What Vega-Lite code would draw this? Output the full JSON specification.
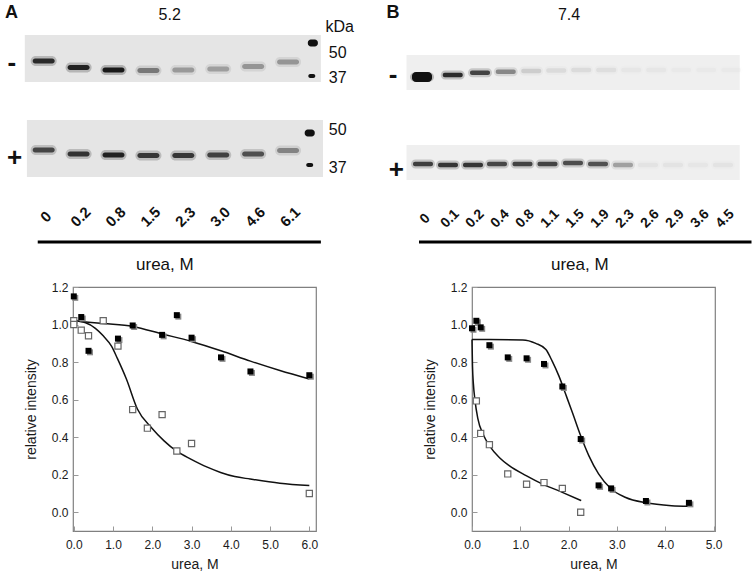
{
  "$schema": "https://vega.github.io/schema/vega-lite/v6.json",
  "padding": {"left": 5, "top": 0, "right": 0, "bottom": 0},
  "bounds": "flush",
  "columns": 2,
  "spacing": {"row": 12, "column": 156},
  "config": {
    "font": "Liberation Sans",
    "view": {"stroke": "#808080", "strokeWidth": 1.2},
    "axis": {
      "grid": false, "domain": false,
      "ticks": true, "tickSize": -5, "tickColor": "#999", "tickWidth": 1,
      "labelFont": "Liberation Sans", "labelFontSize": 12, "labelColor": "#1a1a1a",
      "titleFont": "Liberation Sans", "titleFontWeight": "normal", "titleColor": "#1a1a1a"
    },
    "axisX": {"labelPadding": 13, "titlePadding": 7, "titleFontSize": 14, "labelFlush": false},
    "axisY": {"labelPadding": 10, "titlePadding": 13, "titleFontSize": 14},
    "text": {"color": "#111", "align": "center", "baseline": "middle"}
  },
  "datasets": {
    "gelA_strips": [
      {"strip": "-", "lane": -0.54, "lane2": 7.94, "pos": 3.5, "pos2": 8.2},
      {"strip": "+", "lane": -0.48, "lane2": 8.0, "pos": 12.0, "pos2": 17.7}
    ],
    "gelA_bands": [
      {"strip": "-", "lane": 0, "pos": 6.1, "intensity": 0.85},
      {"strip": "-", "lane": 1, "pos": 6.75, "intensity": 0.9},
      {"strip": "-", "lane": 2, "pos": 7.0, "intensity": 0.95},
      {"strip": "-", "lane": 3, "pos": 7.05, "intensity": 0.45},
      {"strip": "-", "lane": 4, "pos": 7.0, "intensity": 0.3},
      {"strip": "-", "lane": 5, "pos": 6.9, "intensity": 0.28},
      {"strip": "-", "lane": 6, "pos": 6.65, "intensity": 0.32},
      {"strip": "-", "lane": 7, "pos": 6.2, "intensity": 0.32},
      {"strip": "+", "lane": 0, "pos": 15.0, "intensity": 0.7},
      {"strip": "+", "lane": 1, "pos": 15.4, "intensity": 0.8},
      {"strip": "+", "lane": 2, "pos": 15.5, "intensity": 0.9},
      {"strip": "+", "lane": 3, "pos": 15.55, "intensity": 0.78},
      {"strip": "+", "lane": 4, "pos": 15.55, "intensity": 0.78},
      {"strip": "+", "lane": 5, "pos": 15.5, "intensity": 0.72},
      {"strip": "+", "lane": 6, "pos": 15.4, "intensity": 0.65},
      {"strip": "+", "lane": 7, "pos": 15.05, "intensity": 0.4}
    ],
    "gelA_markers": [
      {"strip": "-", "kDa": 50, "lane": 7.71, "pos": 4.3},
      {"strip": "-", "kDa": 37, "lane": 7.68, "pos": 7.6},
      {"strip": "+", "kDa": 50, "lane": 7.62, "pos": 13.3},
      {"strip": "+", "kDa": 37, "lane": 7.62, "pos": 16.5}
    ],
    "gelA_text": [
      {"kind": "panel", "label": "A", "lane": -0.92, "pos": 1.3},
      {"kind": "title", "label": "5.2", "lane": 3.61, "pos": 1.5},
      {"kind": "mw", "label": "kDa", "lane": 8.48, "pos": 2.7},
      {"kind": "mw", "label": "50", "lane": 8.42, "pos": 5.3},
      {"kind": "mw", "label": "37", "lane": 8.42, "pos": 7.8},
      {"kind": "mw", "label": "50", "lane": 8.42, "pos": 13.0},
      {"kind": "mw", "label": "37", "lane": 8.42, "pos": 16.8},
      {"kind": "sign", "label": "-", "lane": -0.91, "pos": 6.3},
      {"kind": "sign", "label": "+", "lane": -0.83, "pos": 15.8},
      {"kind": "conc", "label": "0", "lane": 0, "pos": 21.9},
      {"kind": "conc", "label": "0.2", "lane": 1, "pos": 21.9},
      {"kind": "conc", "label": "0.8", "lane": 2, "pos": 21.9},
      {"kind": "conc", "label": "1.5", "lane": 3, "pos": 21.9},
      {"kind": "conc", "label": "2.3", "lane": 4, "pos": 21.9},
      {"kind": "conc", "label": "3.0", "lane": 5, "pos": 21.9},
      {"kind": "conc", "label": "4.6", "lane": 6, "pos": 21.9},
      {"kind": "conc", "label": "6.1", "lane": 7, "pos": 21.9},
      {"kind": "axis", "label": "urea, M", "lane": 3.47, "pos": 26.5}
    ],
    "gelA_line": [{"lane": -0.17, "lane2": 7.94, "pos": 24.2}],
    "gelB_strips": [
      {"strip": "-", "lane": -0.66, "lane2": 12.67, "pos": 5.5, "pos2": 9.0},
      {"strip": "+", "lane": -0.66, "lane2": 12.67, "pos": 14.5, "pos2": 18.0}
    ],
    "gelB_bands": [
      {"strip": "-", "lane": -0.04, "pos": 7.7, "intensity": 1.0},
      {"strip": "-", "lane": 1.19, "pos": 7.5, "intensity": 0.85},
      {"strip": "-", "lane": 2.28, "pos": 7.27, "intensity": 0.72},
      {"strip": "-", "lane": 3.31, "pos": 7.17, "intensity": 0.4},
      {"strip": "-", "lane": 4.33, "pos": 7.1, "intensity": 0.12},
      {"strip": "-", "lane": 5.33, "pos": 7.05, "intensity": 0.07},
      {"strip": "-", "lane": 6.33, "pos": 7.0, "intensity": 0.07},
      {"strip": "-", "lane": 7.33, "pos": 7.0, "intensity": 0.06},
      {"strip": "-", "lane": 8.33, "pos": 7.0, "intensity": 0.03},
      {"strip": "-", "lane": 9.33, "pos": 7.0, "intensity": 0.03},
      {"strip": "-", "lane": 10.33, "pos": 7.0, "intensity": 0.02},
      {"strip": "-", "lane": 11.33, "pos": 7.0, "intensity": 0.02},
      {"strip": "-", "lane": 12.33, "pos": 7.0, "intensity": 0.02},
      {"strip": "+", "lane": 0, "pos": 16.4, "intensity": 0.75},
      {"strip": "+", "lane": 1, "pos": 16.5, "intensity": 0.8},
      {"strip": "+", "lane": 2, "pos": 16.5, "intensity": 0.8},
      {"strip": "+", "lane": 2.96, "pos": 16.4, "intensity": 0.7},
      {"strip": "+", "lane": 3.98, "pos": 16.4, "intensity": 0.72},
      {"strip": "+", "lane": 4.98, "pos": 16.4, "intensity": 0.72},
      {"strip": "+", "lane": 6, "pos": 16.3, "intensity": 0.68},
      {"strip": "+", "lane": 7, "pos": 16.4, "intensity": 0.65},
      {"strip": "+", "lane": 8, "pos": 16.5, "intensity": 0.3},
      {"strip": "+", "lane": 9, "pos": 16.5, "intensity": 0.04},
      {"strip": "+", "lane": 10, "pos": 16.5, "intensity": 0.04},
      {"strip": "+", "lane": 11, "pos": 16.5, "intensity": 0.03},
      {"strip": "+", "lane": 12, "pos": 16.5, "intensity": 0.04}
    ],
    "gelB_text": [
      {"kind": "panel", "label": "B", "lane": -1.2, "pos": 1.33},
      {"kind": "title", "label": "7.4", "lane": 5.84, "pos": 1.5},
      {"kind": "sign", "label": "-", "lane": -1.2, "pos": 7.5},
      {"kind": "sign", "label": "+", "lane": -1.07, "pos": 17.0},
      {"kind": "conc", "label": "0", "lane": 0, "pos": 22.1},
      {"kind": "conc", "label": "0.1", "lane": 1, "pos": 22.1},
      {"kind": "conc", "label": "0.2", "lane": 2, "pos": 22.1},
      {"kind": "conc", "label": "0.4", "lane": 3, "pos": 22.1},
      {"kind": "conc", "label": "0.8", "lane": 4, "pos": 22.1},
      {"kind": "conc", "label": "1.1", "lane": 5, "pos": 22.1},
      {"kind": "conc", "label": "1.5", "lane": 6, "pos": 22.1},
      {"kind": "conc", "label": "1.9", "lane": 7, "pos": 22.1},
      {"kind": "conc", "label": "2.3", "lane": 8, "pos": 22.1},
      {"kind": "conc", "label": "2.6", "lane": 9, "pos": 22.1},
      {"kind": "conc", "label": "2.9", "lane": 10, "pos": 22.1},
      {"kind": "conc", "label": "3.6", "lane": 11, "pos": 22.1},
      {"kind": "conc", "label": "4.5", "lane": 12, "pos": 22.1},
      {"kind": "axis", "label": "urea, M", "lane": 6.27, "pos": 26.5}
    ],
    "gelB_line": [{"lane": -0.16, "lane2": 13.14, "pos": 24.2}],
    "pointsA": [
      {"treatment": "+", "urea": 0, "intensity": 1.15},
      {"treatment": "+", "urea": 0.19, "intensity": 1.04},
      {"treatment": "+", "urea": 0.375, "intensity": 0.86},
      {"treatment": "+", "urea": 1.125, "intensity": 0.925},
      {"treatment": "+", "urea": 1.5, "intensity": 0.995},
      {"treatment": "+", "urea": 2.25, "intensity": 0.945},
      {"treatment": "+", "urea": 2.625, "intensity": 1.05},
      {"treatment": "+", "urea": 3.0, "intensity": 0.93},
      {"treatment": "+", "urea": 3.75, "intensity": 0.825},
      {"treatment": "+", "urea": 4.5, "intensity": 0.75},
      {"treatment": "+", "urea": 6.0, "intensity": 0.73},
      {"treatment": "-", "urea": 0, "intensity": 1.02},
      {"treatment": "-", "urea": 0, "intensity": 1.0},
      {"treatment": "-", "urea": 0.19, "intensity": 0.97},
      {"treatment": "-", "urea": 0.375, "intensity": 0.94},
      {"treatment": "-", "urea": 0.75, "intensity": 1.02},
      {"treatment": "-", "urea": 1.125, "intensity": 0.885},
      {"treatment": "-", "urea": 1.5, "intensity": 0.547},
      {"treatment": "-", "urea": 1.875, "intensity": 0.448},
      {"treatment": "-", "urea": 2.25, "intensity": 0.52},
      {"treatment": "-", "urea": 2.625, "intensity": 0.326},
      {"treatment": "-", "urea": 3.0, "intensity": 0.366},
      {"treatment": "-", "urea": 6.0, "intensity": 0.1}
    ],
    "fitA": [
      {"treatment": "+", "urea": 0, "intensity": 1.02},
      {"treatment": "+", "urea": 0.75, "intensity": 1.005},
      {"treatment": "+", "urea": 1.5, "intensity": 0.99},
      {"treatment": "+", "urea": 2.25, "intensity": 0.95},
      {"treatment": "+", "urea": 3.0, "intensity": 0.91},
      {"treatment": "+", "urea": 3.75, "intensity": 0.86},
      {"treatment": "+", "urea": 4.5, "intensity": 0.805},
      {"treatment": "+", "urea": 5.25, "intensity": 0.755},
      {"treatment": "+", "urea": 6.0, "intensity": 0.71},
      {"treatment": "-", "urea": 0, "intensity": 1.02},
      {"treatment": "-", "urea": 0.3, "intensity": 1.01},
      {"treatment": "-", "urea": 0.55, "intensity": 0.98},
      {"treatment": "-", "urea": 0.75, "intensity": 0.94},
      {"treatment": "-", "urea": 0.96, "intensity": 0.885},
      {"treatment": "-", "urea": 1.11, "intensity": 0.82},
      {"treatment": "-", "urea": 1.34, "intensity": 0.71},
      {"treatment": "-", "urea": 1.62, "intensity": 0.55},
      {"treatment": "-", "urea": 1.98, "intensity": 0.45},
      {"treatment": "-", "urea": 2.3, "intensity": 0.38},
      {"treatment": "-", "urea": 2.62, "intensity": 0.325},
      {"treatment": "-", "urea": 2.98, "intensity": 0.283},
      {"treatment": "-", "urea": 3.4, "intensity": 0.24},
      {"treatment": "-", "urea": 3.74, "intensity": 0.212},
      {"treatment": "-", "urea": 4.1, "intensity": 0.19},
      {"treatment": "-", "urea": 4.49, "intensity": 0.177},
      {"treatment": "-", "urea": 5.25, "intensity": 0.155},
      {"treatment": "-", "urea": 6.0, "intensity": 0.142}
    ],
    "pointsB": [
      {"treatment": "+", "urea": 0, "intensity": 0.98},
      {"treatment": "+", "urea": 0.09, "intensity": 1.02},
      {"treatment": "+", "urea": 0.18, "intensity": 0.985},
      {"treatment": "+", "urea": 0.36, "intensity": 0.89},
      {"treatment": "+", "urea": 0.74, "intensity": 0.825},
      {"treatment": "+", "urea": 1.13, "intensity": 0.82},
      {"treatment": "+", "urea": 1.49, "intensity": 0.79},
      {"treatment": "+", "urea": 1.87, "intensity": 0.67},
      {"treatment": "+", "urea": 2.25, "intensity": 0.39},
      {"treatment": "+", "urea": 2.62, "intensity": 0.143},
      {"treatment": "+", "urea": 2.88, "intensity": 0.127},
      {"treatment": "+", "urea": 3.6, "intensity": 0.06},
      {"treatment": "+", "urea": 4.49, "intensity": 0.05},
      {"treatment": "-", "urea": 0.09, "intensity": 0.593},
      {"treatment": "-", "urea": 0.18, "intensity": 0.42},
      {"treatment": "-", "urea": 0.36, "intensity": 0.36},
      {"treatment": "-", "urea": 0.74, "intensity": 0.204},
      {"treatment": "-", "urea": 1.13, "intensity": 0.149},
      {"treatment": "-", "urea": 1.49, "intensity": 0.158},
      {"treatment": "-", "urea": 1.87, "intensity": 0.127},
      {"treatment": "-", "urea": 2.25, "intensity": 0.0}
    ],
    "fitB": [
      {"treatment": "+", "urea": 0, "intensity": 0.92},
      {"treatment": "+", "urea": 1.05, "intensity": 0.918},
      {"treatment": "+", "urea": 1.32, "intensity": 0.9},
      {"treatment": "+", "urea": 1.53, "intensity": 0.867},
      {"treatment": "+", "urea": 1.66, "intensity": 0.805},
      {"treatment": "+", "urea": 1.8, "intensity": 0.725},
      {"treatment": "+", "urea": 1.94, "intensity": 0.628},
      {"treatment": "+", "urea": 2.08, "intensity": 0.53},
      {"treatment": "+", "urea": 2.25, "intensity": 0.407},
      {"treatment": "+", "urea": 2.42, "intensity": 0.3},
      {"treatment": "+", "urea": 2.62, "intensity": 0.204},
      {"treatment": "+", "urea": 2.88, "intensity": 0.124},
      {"treatment": "+", "urea": 3.17, "intensity": 0.08},
      {"treatment": "+", "urea": 3.6, "intensity": 0.05},
      {"treatment": "+", "urea": 4.13, "intensity": 0.035},
      {"treatment": "+", "urea": 4.49, "intensity": 0.032},
      {"treatment": "-", "urea": 0, "intensity": 0.92},
      {"treatment": "-", "urea": 0.01, "intensity": 0.78},
      {"treatment": "-", "urea": 0.03, "intensity": 0.68},
      {"treatment": "-", "urea": 0.06, "intensity": 0.6},
      {"treatment": "-", "urea": 0.12, "intensity": 0.5},
      {"treatment": "-", "urea": 0.23, "intensity": 0.415},
      {"treatment": "-", "urea": 0.36, "intensity": 0.355},
      {"treatment": "-", "urea": 0.57, "intensity": 0.29},
      {"treatment": "-", "urea": 0.77, "intensity": 0.248},
      {"treatment": "-", "urea": 1.12, "intensity": 0.195},
      {"treatment": "-", "urea": 1.46, "intensity": 0.15},
      {"treatment": "-", "urea": 1.87, "intensity": 0.106},
      {"treatment": "-", "urea": 2.26, "intensity": 0.062}
    ]
  },
  "concat": [
    {
      "width": 243,
      "height": 275,
      "view": {"stroke": null},
      "encoding": {
        "x": {"field": "lane", "type": "quantitative", "scale": {"domain": [0.84, 7.8], "nice": false, "zero": false}, "axis": null},
        "y": {"field": "pos", "type": "quantitative", "scale": {"domain": [0, 27.5], "reverse": true, "nice": false, "zero": false}, "axis": null}
      },
      "layer": [
        {
          "data": {"name": "gelA_strips"},
          "mark": {"type": "rect", "fill": "#e5e5e5"},
          "encoding": {"x2": {"field": "lane2"}, "y2": {"field": "pos2"}}
        },
        {
          "data": {"name": "gelA_bands"},
          "mark": {"type": "tick", "orient": "horizontal", "color": "#111", "size": 26, "thickness": 10, "cornerRadius": 5},
          "encoding": {"opacity": {"field": "intensity", "type": "quantitative", "scale": {"domain": [0, 1], "range": [0, 0.25]}, "legend": null}}
        },
        {
          "data": {"name": "gelA_bands"},
          "mark": {"type": "tick", "orient": "horizontal", "color": "#111", "size": 22, "thickness": 5, "cornerRadius": 2.5},
          "encoding": {"opacity": {"field": "intensity", "type": "quantitative", "scale": null}}
        },
        {
          "data": {"name": "gelA_markers"},
          "transform": [{"filter": "datum.kDa == 50"}],
          "mark": {"type": "tick", "orient": "horizontal", "color": "#111", "size": 10, "thickness": 7, "cornerRadius": 3, "opacity": 1}
        },
        {
          "data": {"name": "gelA_markers"},
          "transform": [{"filter": "datum.kDa == 37"}],
          "mark": {"type": "tick", "orient": "horizontal", "color": "#111", "size": 7, "thickness": 4, "cornerRadius": 2, "opacity": 1}
        },
        {
          "data": {"name": "gelA_line"},
          "mark": {"type": "rule", "color": "#000", "strokeWidth": 3},
          "encoding": {"x2": {"field": "lane2"}}
        },
        {
          "data": {"name": "gelA_text"},
          "transform": [{"filter": "datum.kind == 'panel'"}],
          "mark": {"type": "text", "fontSize": 18, "fontWeight": "bold"},
          "encoding": {"text": {"field": "label"}}
        },
        {
          "data": {"name": "gelA_text"},
          "transform": [{"filter": "datum.kind == 'title' || datum.kind == 'mw'"}],
          "mark": {"type": "text", "fontSize": 16},
          "encoding": {"text": {"field": "label"}}
        },
        {
          "data": {"name": "gelA_text"},
          "transform": [{"filter": "datum.kind == 'sign'"}],
          "mark": {"type": "text", "fontSize": 26, "fontWeight": "bold"},
          "encoding": {"text": {"field": "label"}}
        },
        {
          "data": {"name": "gelA_text"},
          "transform": [{"filter": "datum.kind == 'conc'"}],
          "mark": {"type": "text", "fontSize": 15, "fontWeight": "bold", "angle": -45, "dx": 3},
          "encoding": {"text": {"field": "label"}}
        },
        {
          "data": {"name": "gelA_text"},
          "transform": [{"filter": "datum.kind == 'axis'"}],
          "mark": {"type": "text", "fontSize": 17},
          "encoding": {"text": {"field": "label"}}
        }
      ]
    },
    {
      "width": 243,
      "height": 275,
      "view": {"stroke": null},
      "encoding": {
        "x": {"field": "lane", "type": "quantitative", "scale": {"domain": [1.96, 11.68], "nice": false, "zero": false}, "axis": null},
        "y": {"field": "pos", "type": "quantitative", "scale": {"domain": [0, 27.5], "reverse": true, "nice": false, "zero": false}, "axis": null}
      },
      "layer": [
        {
          "data": {"name": "gelB_strips"},
          "mark": {"type": "rect", "fill": "#efefef"},
          "encoding": {"x2": {"field": "lane2"}, "y2": {"field": "pos2"}}
        },
        {
          "data": {"name": "gelB_bands"},
          "mark": {"type": "tick", "orient": "horizontal", "color": "#111", "size": 24, "thickness": 9, "cornerRadius": 4.5},
          "encoding": {"opacity": {"field": "intensity", "type": "quantitative", "scale": {"domain": [0, 1], "range": [0, 0.25]}, "legend": null}}
        },
        {
          "data": {"name": "gelB_bands"},
          "mark": {"type": "tick", "orient": "horizontal", "color": "#111", "size": 20, "thickness": 4.5, "cornerRadius": 2},
          "encoding": {"opacity": {"field": "intensity", "type": "quantitative", "scale": null}}
        },
        {
          "data": {"name": "gelB_bands"},
          "transform": [{"filter": "datum.intensity >= 1"}],
          "mark": {"type": "tick", "orient": "horizontal", "color": "#111", "size": 20, "thickness": 10, "cornerRadius": 4, "opacity": 1}
        },
        {
          "data": {"name": "gelB_line"},
          "mark": {"type": "rule", "color": "#000", "strokeWidth": 3},
          "encoding": {"x2": {"field": "lane2"}}
        },
        {
          "data": {"name": "gelB_text"},
          "transform": [{"filter": "datum.kind == 'panel'"}],
          "mark": {"type": "text", "fontSize": 18, "fontWeight": "bold"},
          "encoding": {"text": {"field": "label"}}
        },
        {
          "data": {"name": "gelB_text"},
          "transform": [{"filter": "datum.kind == 'title'"}],
          "mark": {"type": "text", "fontSize": 16},
          "encoding": {"text": {"field": "label"}}
        },
        {
          "data": {"name": "gelB_text"},
          "transform": [{"filter": "datum.kind == 'sign'"}],
          "mark": {"type": "text", "fontSize": 26, "fontWeight": "bold"},
          "encoding": {"text": {"field": "label"}}
        },
        {
          "data": {"name": "gelB_text"},
          "transform": [{"filter": "datum.kind == 'conc'"}],
          "mark": {"type": "text", "fontSize": 14, "fontWeight": "bold", "angle": -45, "dx": 3},
          "encoding": {"text": {"field": "label"}}
        },
        {
          "data": {"name": "gelB_text"},
          "transform": [{"filter": "datum.kind == 'axis'"}],
          "mark": {"type": "text", "fontSize": 17},
          "encoding": {"text": {"field": "label"}}
        }
      ]
    },
    {
      "width": 243,
      "height": 244,
      "encoding": {
        "x": {"field": "urea", "type": "quantitative", "scale": {"domain": [-0.02, 6.17], "nice": false, "zero": false}, "axis": {"values": [0, 1, 2, 3, 4, 5, 6], "format": ".1f", "title": "urea, M"}},
        "y": {"field": "intensity", "type": "quantitative", "scale": {"domain": [-0.1, 1.2], "nice": false, "zero": false}, "axis": {"values": [0, 0.2, 0.4, 0.6, 0.8, 1.0, 1.2], "format": ".1f", "title": "relative intensity"}}
      },
      "layer": [
        {
          "data": {"name": "fitA"},
          "mark": {"type": "line", "color": "#111", "strokeWidth": 1.5, "interpolate": "monotone"},
          "encoding": {"detail": {"field": "treatment"}}
        },
        {
          "data": {"name": "pointsA"},
          "transform": [{"filter": "datum.treatment == '+'"}],
          "mark": {"type": "point", "shape": "M-0.5,-0.5H1.5V1.5H-0.5Z", "filled": true, "size": 36, "fill": "#8a8a8a", "strokeWidth": 0, "opacity": 1}
        },
        {
          "data": {"name": "pointsA"},
          "transform": [{"filter": "datum.treatment == '+'"}],
          "mark": {"type": "point", "shape": "square", "filled": true, "size": 36, "fill": "#000", "strokeWidth": 0, "opacity": 1}
        },
        {
          "data": {"name": "pointsA"},
          "transform": [{"filter": "datum.treatment == '-'"}],
          "mark": {"type": "point", "shape": "square", "filled": true, "size": 38, "fill": "#fff", "stroke": "#666", "strokeWidth": 1.2, "opacity": 1}
        }
      ]
    },
    {
      "width": 243,
      "height": 244,
      "encoding": {
        "x": {"field": "urea", "type": "quantitative", "scale": {"domain": [0, 5.03], "nice": false, "zero": false}, "axis": {"values": [0, 1, 2, 3, 4, 5], "format": ".1f", "title": "urea, M"}},
        "y": {"field": "intensity", "type": "quantitative", "scale": {"domain": [-0.1, 1.2], "nice": false, "zero": false}, "axis": {"values": [0, 0.2, 0.4, 0.6, 0.8, 1.0, 1.2], "format": ".1f", "title": "relative intensity"}}
      },
      "layer": [
        {
          "data": {"name": "fitB"},
          "mark": {"type": "line", "color": "#111", "strokeWidth": 1.5, "interpolate": "monotone"},
          "encoding": {"detail": {"field": "treatment"}}
        },
        {
          "data": {"name": "pointsB"},
          "transform": [{"filter": "datum.treatment == '+'"}],
          "mark": {"type": "point", "shape": "M-0.5,-0.5H1.5V1.5H-0.5Z", "filled": true, "size": 36, "fill": "#8a8a8a", "strokeWidth": 0, "opacity": 1}
        },
        {
          "data": {"name": "pointsB"},
          "transform": [{"filter": "datum.treatment == '+'"}],
          "mark": {"type": "point", "shape": "square", "filled": true, "size": 36, "fill": "#000", "strokeWidth": 0, "opacity": 1}
        },
        {
          "data": {"name": "pointsB"},
          "transform": [{"filter": "datum.treatment == '-'"}],
          "mark": {"type": "point", "shape": "square", "filled": true, "size": 38, "fill": "#fff", "stroke": "#666", "strokeWidth": 1.2, "opacity": 1}
        }
      ]
    }
  ]
}
